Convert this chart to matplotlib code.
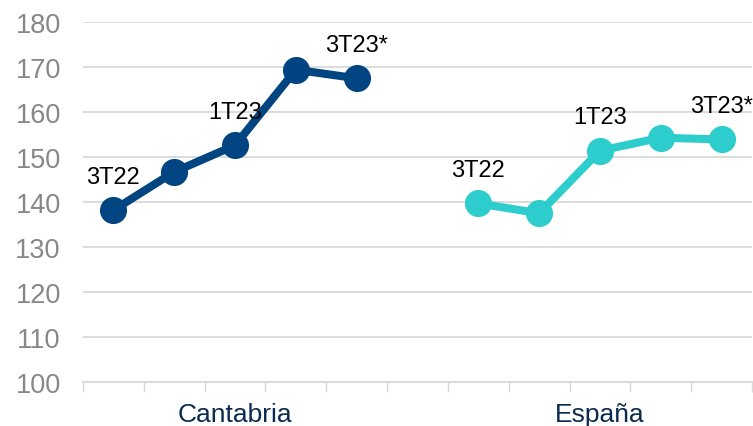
import matplotlib.pyplot as plt
import matplotlib.transforms as mtransforms

plt.rcParams['font.family'] = ['Liberation Sans', 'DejaVu Sans']

regions = ['Cantabria', 'España']
cantabria = [138.2, 146.7, 152.6, 169.4, 167.5]
espana = [139.7, 137.5, 151.4, 154.3, 153.9]
point_labels = ['3T22', '', '1T23', '', '3T23*']
y_ticks = [100, 110, 120, 130, 140, 150, 160, 170, 180]

colors = ['#004481', '#2DCCCD']

fig = plt.figure(figsize=(7.53, 4.27), dpi=100)
ax = fig.add_axes([0.1102, 0.103, 0.8884, 0.843])

# each region takes 5 slots, with one empty slot between them
slots = len(cantabria) * 2 + 1
x_cant = [i + 0.5 for i in range(len(cantabria))]
x_esp = [len(cantabria) + 1 + i + 0.5 for i in range(len(espana))]

for xs, ys, c in [(x_cant, cantabria, colors[0]), (x_esp, espana, colors[1])]:
    ax.plot(xs, ys, color=c, lw=5.8, marker='o', ms=18.5, zorder=3,
            solid_capstyle='round')
    for x, y, lab in zip(xs, ys, point_labels):
        if lab:
            ax.annotate(lab, (x, y), xytext=(0, 24), textcoords='offset points',
                        ha='center', va='center', fontsize=17, color='black',
                        zorder=4, annotation_clip=False)

ax.set_xlim(0, slots)
ax.set_ylim(100, 180)
ax.set_yticks(y_ticks)
ax.set_yticklabels([str(v) for v in y_ticks])
ax.tick_params(axis='y', length=0, pad=16, labelsize=19.5, labelcolor='#878787')
ax.grid(axis='y', color='#d9d9d9', lw=1.3, zorder=0)
ax.set_axisbelow(True)

ax.set_xticks(range(slots + 1))
ax.set_xticklabels([])
ax.tick_params(axis='x', length=7.5, width=1.0, color='#d9d9d9')

for side in ['left', 'right', 'top']:
    ax.spines[side].set_visible(False)
ax.spines['bottom'].set_color('#d9d9d9')
ax.spines['bottom'].set_linewidth(1.3)

trans = mtransforms.blended_transform_factory(ax.transData, ax.transAxes)
centers = [sum(x_cant) / len(x_cant), sum(x_esp) / len(x_esp)]
for name, cx in zip(regions, centers):
    ax.text(cx, -0.09, name, transform=trans, ha='center', va='center',
            fontsize=19, color='#0A2A4F')

fig.savefig('out.png', dpi=100)
